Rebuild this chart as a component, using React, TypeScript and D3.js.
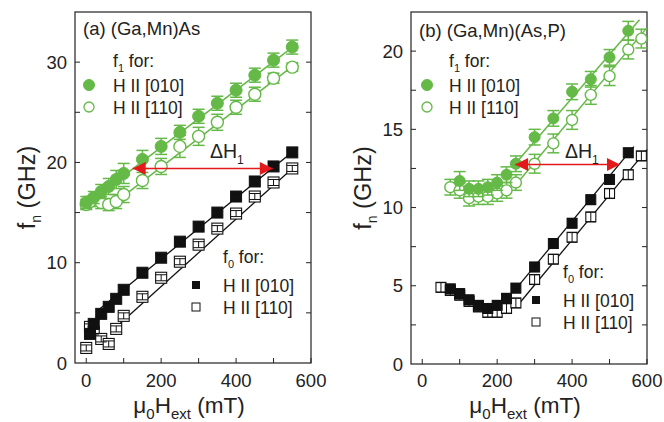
import * as d3 from 'd3';
import React, { useEffect, useRef } from 'react';

// Panel (a) (Ga,Mn)As - f1 (green) and f0 (black), field in mT, freq in GHz
const aF1x010 = [0, 20, 40, 60, 80, 100, 150, 200, 250, 300, 350, 400, 450, 500, 550];
const aF1y010 = [16.0, 16.5, 17.1, 17.6, 18.3, 18.9, 20.3, 21.6, 23.0, 24.6, 25.9, 27.2, 28.7, 30.2, 31.5];
const aF1e010 = [0.6, 0.6, 0.7, 0.8, 0.9, 1.0, 0.9, 0.8, 0.7, 0.7, 0.7, 0.7, 0.7, 0.7, 0.7];
const aF1x110 = [0, 10, 40, 60, 80, 100, 150, 200, 250, 300, 350, 400, 450, 500, 550];
const aF1y110 = [15.8, 16.1, 16.0, 15.8, 16.1, 16.8, 18.2, 19.6, 21.6, 22.6, 24.0, 25.5, 26.8, 28.4, 29.5];
const aF1e110 = [0.5, 0.5, 0.6, 0.6, 0.7, 0.8, 0.8, 0.8, 1.1, 0.9, 0.8, 0.7, 0.7, 0.5, 0.4];
const aF0x010 = [10, 20, 40, 60, 80, 100, 150, 200, 250, 300, 350, 400, 450, 500, 550];
const aF0y010 = [2.9, 3.9, 4.9, 5.6, 6.4, 7.3, 9.0, 10.5, 12.1, 13.6, 15.0, 16.6, 18.1, 19.6, 21.0];
const aF0x110 = [0, 10, 20, 40, 60, 80, 100, 150, 200, 250, 300, 350, 400, 450, 500, 550];
const aF0y110 = [1.5, 3.6, 3.1, 2.4, 1.9, 3.4, 4.7, 6.6, 8.5, 10.1, 11.8, 13.4, 14.9, 16.6, 18.0, 19.4];
// fit lines: [[xStart, yStart], [xEnd, yEnd]]
const aFit1010 = [[20, 16.4], [565, 31.9]];
const aFit1110 = [[80, 16.1], [565, 30.0]];
const aFit0010 = [[30, 5.2], [565, 21.5]];
const aFit0110 = [[80, 3.6], [565, 19.9]];
const aArrow = [[124, 19.4], [498, 19.4]];

// Panel (b) (Ga,Mn)(As,P)
const bF1x010 = [100, 125, 150, 175, 200, 225, 250, 300, 350, 400, 450, 500, 550];
const bF1y010 = [11.7, 11.2, 11.2, 11.3, 11.6, 12.1, 12.8, 14.5, 15.7, 17.4, 18.2, 19.6, 21.3];
const bF1e010 = [0.6, 0.5, 0.5, 0.5, 0.5, 0.5, 0.5, 0.5, 0.5, 0.5, 0.5, 0.5, 0.6];
const bF1x110 = [75, 100, 125, 150, 175, 200, 225, 250, 300, 350, 400, 450, 500, 550, 585];
const bF1y110 = [11.3, 11.1, 10.6, 10.7, 10.7, 10.9, 11.1, 11.6, 12.8, 14.1, 15.6, 17.2, 18.4, 20.1, 20.8];
const bF1e110 = [0.5, 0.5, 0.5, 0.5, 0.5, 0.5, 0.5, 0.5, 0.6, 0.6, 0.6, 0.6, 0.6, 0.6, 0.6];
const bF0x010 = [75, 100, 125, 150, 175, 200, 225, 250, 300, 350, 400, 450, 500, 550];
const bF0y010 = [4.8, 4.5, 4.1, 3.75, 3.55, 3.75, 4.2, 4.85, 6.2, 7.7, 9.0, 10.5, 11.8, 13.5];
const bF0x110 = [50, 75, 100, 125, 150, 175, 200, 225, 250, 300, 350, 400, 450, 500, 550, 585];
const bF0y110 = [4.9, 4.7, 4.4, 4.0, 3.65, 3.3, 3.3, 3.55, 3.9, 5.4, 6.7, 8.1, 9.4, 10.9, 12.1, 13.3];
const bFit1010 = [[245, 12.7], [580, 22.0]];
const bFit1110 = [[255, 11.6], [600, 21.5]];
const bFit0010 = [[250, 4.8], [565, 13.9]];
const bFit0110 = [[260, 3.9], [600, 13.7]];
const bArrow = [[248, 12.75], [528, 12.75]];

const xTicks = [0, 200, 400, 600];
const xMinor = [100, 300, 500];
const aYTicks = [0, 10, 20, 30];
const aYMinor = [5, 15, 25];
const bYTicks = [0, 5, 10, 15, 20];
const bYMinor = [2.5, 7.5, 12.5, 17.5];

const GREEN = '#64b947';
const BLACK = '#111';
const RED = '#e4191c';
const FONT = 'Liberation Sans, Arial, sans-serif';

const zip = (xs: number[], ys: number[], es?: number[]) =>
    xs.map((x, i) => ({ x: x, y: ys[i], e: es ? es[i] : 0.3 }));

export default function App() {
    const svgRef = useRef<SVGSVGElement>(null);

    useEffect(() => {
        const svg = d3.select(svgRef.current);
        svg.selectAll('*').remove();

        const panels = [
            {
                left: 75, right: 311, top: 12, bottom: 363, yMax: 35,
                yTicks: aYTicks, yMinor: aYMinor, r: 6, sq: 11,
                title: '(a) (Ga,Mn)As', titleY: 35,
                f1: [zip(aF1x010, aF1y010, aF1e010), zip(aF1x110, aF1y110, aF1e110)],
                f0: [zip(aF0x010, aF0y010), zip(aF0x110, aF0y110)],
                fits1: [aFit1010, aFit1110], fits0: [aFit0010, aFit0110],
                arrow: aArrow, dhX: 210, dhY: 158,
                leg1: { x: 113, y: 67, mx: 89 }, leg0: { x: 223, y: 263, mx: 196 }
            },
            {
                left: 411, right: 647, top: 12, bottom: 364, yMax: 22.5,
                yTicks: bYTicks, yMinor: bYMinor, r: 5.5, sq: 10,
                title: '(b) (Ga,Mn)(As,P)', titleY: 37,
                f1: [zip(bF1x010, bF1y010, bF1e010), zip(bF1x110, bF1y110, bF1e110)],
                f0: [zip(bF0x010, bF0y010), zip(bF0x110, bF0y110)],
                fits1: [bFit1010, bFit1110], fits0: [bFit0010, bFit0110],
                arrow: bArrow, dhX: 565, dhY: 158,
                leg1: { x: 449, y: 67, mx: 427 }, leg0: { x: 563, y: 278, mx: 536 }
            }
        ];

        // arrowhead markers
        const defs = svg.append('defs');
        ['start', 'end'].forEach(function(k) {
            defs.append('marker')
                .attr('id', 'arr-' + k)
                .attr('viewBox', '0 0 10 10')
                .attr('refX', k === 'end' ? 10 : 0).attr('refY', 5)
                .attr('markerUnits', 'userSpaceOnUse')
                .attr('markerWidth', 17).attr('markerHeight', 13)
                .attr('orient', 'auto')
                .append('path')
                .attr('d', k === 'end' ? 'M0,0L10,5L0,10Z' : 'M10,0L0,5L10,10Z')
                .attr('fill', RED);
        });

        panels.forEach(function(p) {
            const x = d3.scaleLinear().domain([-30, 600]).range([p.left, p.right]);
            const y = d3.scaleLinear().domain([0, p.yMax]).range([p.bottom, p.top]);
            const g = svg.append('g');

            // frame
            g.append('rect')
                .attr('x', p.left).attr('y', p.top)
                .attr('width', p.right - p.left).attr('height', p.bottom - p.top)
                .attr('fill', 'none').attr('stroke', '#222').attr('stroke-width', 1.2);

            // inward ticks
            const tk = 5;
            xTicks.concat(xMinor).forEach(function(t) {
                g.append('line').attr('x1', x(t)).attr('x2', x(t))
                    .attr('y1', p.bottom).attr('y2', p.bottom - tk)
                    .attr('stroke', '#222');
            });
            p.yTicks.concat(p.yMinor).forEach(function(t) {
                if (t === 0) return;
                g.append('line').attr('x1', p.left).attr('x2', p.left + tk)
                    .attr('y1', y(t)).attr('y2', y(t)).attr('stroke', '#222');
                g.append('line').attr('x1', p.right).attr('x2', p.right - tk)
                    .attr('y1', y(t)).attr('y2', y(t)).attr('stroke', '#222');
            });
            xTicks.forEach(function(t) {
                g.append('text').attr('x', x(t)).attr('y', 387)
                    .attr('text-anchor', 'middle').attr('font-size', 18.5)
                    .attr('font-family', FONT).attr('fill', '#222').text(t);
            });
            p.yTicks.forEach(function(t) {
                g.append('text').attr('x', p.left - 8).attr('y', y(t) + 6.5)
                    .attr('text-anchor', 'end').attr('font-size', 18.5)
                    .attr('font-family', FONT).attr('fill', '#222').text(t);
            });

            // axis titles
            const xl = g.append('text')
                .attr('x', (p.left + p.right) / 2 - 4).attr('y', 413)
                .attr('text-anchor', 'middle').attr('font-size', 22.5)
                .attr('font-family', FONT).attr('fill', '#222');
            xl.append('tspan').text('\u03bc');
            xl.append('tspan').attr('font-size', 15).attr('dy', 6).text('0');
            xl.append('tspan').attr('dy', -6).text('H');
            xl.append('tspan').attr('font-size', 15).attr('dy', 6).text('ext');
            xl.append('tspan').attr('dy', -6).text(' (mT)');

            const yl = g.append('text')
                .attr('transform', 'translate(' + (p.left - 40) + ',' + ((p.top + p.bottom) / 2) + ') rotate(-90)')
                .attr('text-anchor', 'middle').attr('font-size', 23.5)
                .attr('font-family', FONT).attr('fill', '#222');
            yl.append('tspan').text('f');
            yl.append('tspan').attr('font-size', 14).attr('dy', 6).text('n');
            yl.append('tspan').attr('dy', -6).text(' (GHz)');

            // fit lines
            const line = d3.line<number[]>().x(d => x(d[0])).y(d => y(d[1]));
            p.fits1.forEach(function(f) {
                g.append('path').attr('d', line(f as any)).attr('stroke', GREEN)
                    .attr('stroke-width', 1.5).attr('fill', 'none');
            });
            p.fits0.forEach(function(f) {
                g.append('path').attr('d', line(f as any)).attr('stroke', BLACK)
                    .attr('stroke-width', 1.3).attr('fill', 'none');
            });

            // error bars helper
            function errBars(data: any[], color: string, cap: number, w: number) {
                const eb = g.append('g').attr('stroke', color).attr('stroke-width', w);
                data.forEach(function(d) {
                    eb.append('line').attr('x1', x(d.x)).attr('x2', x(d.x))
                        .attr('y1', y(d.y - d.e)).attr('y2', y(d.y + d.e));
                    [d.y - d.e, d.y + d.e].forEach(function(v) {
                        eb.append('line').attr('x1', x(d.x) - cap).attr('x2', x(d.x) + cap)
                            .attr('y1', y(v)).attr('y2', y(v));
                    });
                });
            }

            // f0 squares
            const s = p.sq;
            g.append('g').selectAll('rect').data(p.f0[1]).enter().append('rect')
                .attr('x', d => x(d.x) - s / 2).attr('y', d => y(d.y) - s / 2)
                .attr('width', s).attr('height', s)
                .attr('fill', 'white').attr('stroke', BLACK).attr('stroke-width', 1.1);
            errBars(p.f0[1], BLACK, s / 2, 1);
            g.append('g').selectAll('rect').data(p.f0[0]).enter().append('rect')
                .attr('x', d => x(d.x) - s / 2).attr('y', d => y(d.y) - s / 2)
                .attr('width', s).attr('height', s)
                .attr('fill', BLACK).attr('stroke', BLACK);
            errBars(p.f0[0], BLACK, s / 2, 1);

            // f1 circles
            errBars(p.f1[1], GREEN, 6, 1.5);
            g.append('g').selectAll('circle').data(p.f1[1]).enter().append('circle')
                .attr('cx', d => x(d.x)).attr('cy', d => y(d.y)).attr('r', p.r)
                .attr('fill', 'white').attr('stroke', GREEN).attr('stroke-width', 1.4);
            errBars(p.f1[0], GREEN, 6, 1.5);
            g.append('g').selectAll('circle').data(p.f1[0]).enter().append('circle')
                .attr('cx', d => x(d.x)).attr('cy', d => y(d.y)).attr('r', p.r)
                .attr('fill', GREEN).attr('stroke', GREEN);

            // delta H arrow
            g.append('line')
                .attr('x1', x(p.arrow[0][0])).attr('y1', y(p.arrow[0][1]))
                .attr('x2', x(p.arrow[1][0])).attr('y2', y(p.arrow[1][1]))
                .attr('stroke', RED).attr('stroke-width', 1.6)
                .attr('marker-start', 'url(#arr-start)').attr('marker-end', 'url(#arr-end)');
            const dh = g.append('text').attr('x', p.dhX).attr('y', p.dhY)
                .attr('font-size', 19.5).attr('font-family', FONT).attr('fill', '#222');
            dh.append('tspan').text('\u0394H');
            dh.append('tspan').attr('font-size', 12).attr('dy', 6).text('1');

            // title
            g.append('text').attr('x', p.left + 8).attr('y', p.titleY)
                .attr('font-size', 18.5).attr('font-family', FONT).attr('fill', '#222')
                .text(p.title);

            // legends
            const fs = 17.5;
            const t1 = g.append('text').attr('x', p.leg1.x).attr('y', p.leg1.y)
                .attr('font-size', fs).attr('font-family', FONT).attr('fill', '#222');
            t1.append('tspan').text('f');
            t1.append('tspan').attr('font-size', 11).attr('dy', 5).text('1');
            t1.append('tspan').attr('dy', -5).text(' for:');
            g.append('circle').attr('cx', p.leg1.mx).attr('cy', p.leg1.y + 18).attr('r', 5.5)
                .attr('fill', GREEN).attr('stroke', GREEN);
            g.append('text').attr('x', p.leg1.x).attr('y', p.leg1.y + 25)
                .attr('font-size', fs).attr('font-family', FONT).attr('fill', '#222').text('H II [010]');
            g.append('circle').attr('cx', p.leg1.mx).attr('cy', p.leg1.y + 40).attr('r', 5)
                .attr('fill', 'white').attr('stroke', GREEN).attr('stroke-width', 1.3);
            g.append('text').attr('x', p.leg1.x).attr('y', p.leg1.y + 47)
                .attr('font-size', fs).attr('font-family', FONT).attr('fill', '#222').text('H II [110]');

            const t0 = g.append('text').attr('x', p.leg0.x).attr('y', p.leg0.y)
                .attr('font-size', fs).attr('font-family', FONT).attr('fill', '#222');
            t0.append('tspan').text('f');
            t0.append('tspan').attr('font-size', 11).attr('dy', 5).text('0');
            t0.append('tspan').attr('dy', -5).text(' for:');
            g.append('rect').attr('x', p.leg0.mx - 4).attr('y', p.leg0.y + 18)
                .attr('width', 8).attr('height', 8).attr('fill', BLACK);
            g.append('text').attr('x', p.leg0.x).attr('y', p.leg0.y + 29)
                .attr('font-size', fs).attr('font-family', FONT).attr('fill', '#222').text('H II [010]');
            g.append('rect').attr('x', p.leg0.mx - 4).attr('y', p.leg0.y + 40)
                .attr('width', 8).attr('height', 8).attr('fill', 'white').attr('stroke', BLACK);
            g.append('text').attr('x', p.leg0.x).attr('y', p.leg0.y + 51)
                .attr('font-size', fs).attr('font-family', FONT).attr('fill', '#222').text('H II [110]');
        });
    }, []);

    return (
        <svg ref={svgRef} width={664} height={422}
            style={{ position: 'absolute', left: 0, top: 0, background: 'white' }} />
    );
}
